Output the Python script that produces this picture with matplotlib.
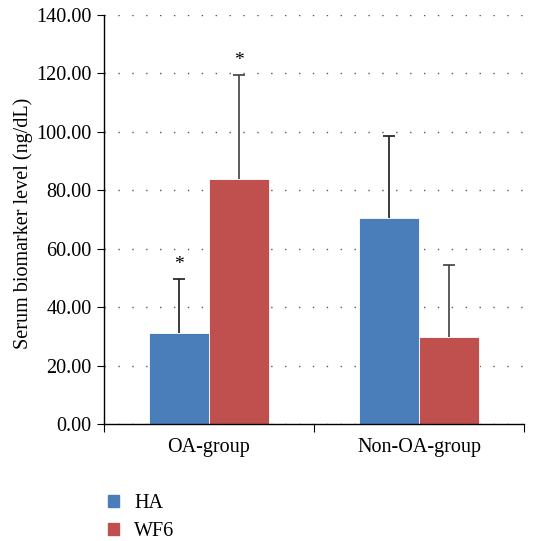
import matplotlib.pyplot as plt
import numpy as np
from matplotlib.patches import Patch

plt.rcParams['font.family'] = ['Liberation Serif', 'DejaVu Serif']

groups = ['OA-group', 'Non-OA-group']
series = ['HA', 'WF6']
means = {'HA': [31.3, 70.5], 'WF6': [84.0, 29.8]}
sds = {'HA': [18.4, 28.0], 'WF6': [35.6, 24.7]}
stars = {'HA': ['*', ''], 'WF6': ['*', '']}
colors = {'HA': '#4a7ebb', 'WF6': '#c0504d'}

fig = plt.figure(figsize=(5.44, 5.41), dpi=100)
ax = fig.add_axes((104 / 544, 1 - 424 / 541, 420 / 544, 409 / 541))

x = np.arange(len(groups))
w = 2 / 7
for i, s in enumerate(series):
    pos = x + (i - 0.5) * w
    ax.bar(pos, means[s], width=w, color=colors[s], edgecolor='white',
           linewidth=0.6, zorder=2)
    eb = ax.errorbar(pos, means[s], yerr=[np.zeros(len(groups)), sds[s]],
                     fmt='none', ecolor='#1a1a1a' if s == 'HA' else '#404040',
                     elinewidth=1.2, capsize=4, capthick=1.2, zorder=3)
    eb.lines[1][0].set_visible(False)  # only the upper cap
    for p, m, sd, st in zip(pos, means[s], sds[s], stars[s]):
        if st:
            ax.text(p, m + sd + 2.0, st, ha='center', va='bottom', fontsize=14)

ax.set_xlim(-0.5, 1.5)
ax.set_ylim(0, 140)
ax.set_yticks(np.arange(0, 141, 20))
ax.set_yticklabels([f'{v:.2f}' for v in np.arange(0, 141, 20)], fontsize=14.5)
ax.set_xticks([-0.5, 0.5, 1.5])
ax.set_xticklabels([])
ax.set_xticks(x, minor=True)
ax.set_xticklabels(groups, minor=True, fontsize=14.5)
ax.tick_params(axis='x', which='minor', length=0, pad=10)
ax.tick_params(axis='x', which='major', length=6, direction='out')
ax.tick_params(axis='y', length=5, direction='out', pad=4)
ax.yaxis.grid(True, linestyle=(0, (1, 9)), color='#555555', linewidth=1.0, zorder=0)
ax.set_axisbelow(True)
for sp in ['top', 'right']:
    ax.spines[sp].set_visible(False)
ax.spines['left'].set_linewidth(1.0)
ax.spines['bottom'].set_linewidth(1.0)
ax.set_ylabel('Serum biomarker level (ng/dL)', fontsize=14.5, labelpad=6)
ax.yaxis.set_label_coords(-0.17, 0.49)

handles = [Patch(color=colors[s], label=s) for s in series]
fig.legend(handles=handles, loc='upper left', bbox_to_anchor=(100 / 544, 1 - 486 / 541),
           frameon=False, fontsize=14.5, handlelength=0.55, handleheight=0.55,
           handletextpad=0.75, labelspacing=0.45, borderaxespad=0)

fig.savefig('out.png', dpi=100)
